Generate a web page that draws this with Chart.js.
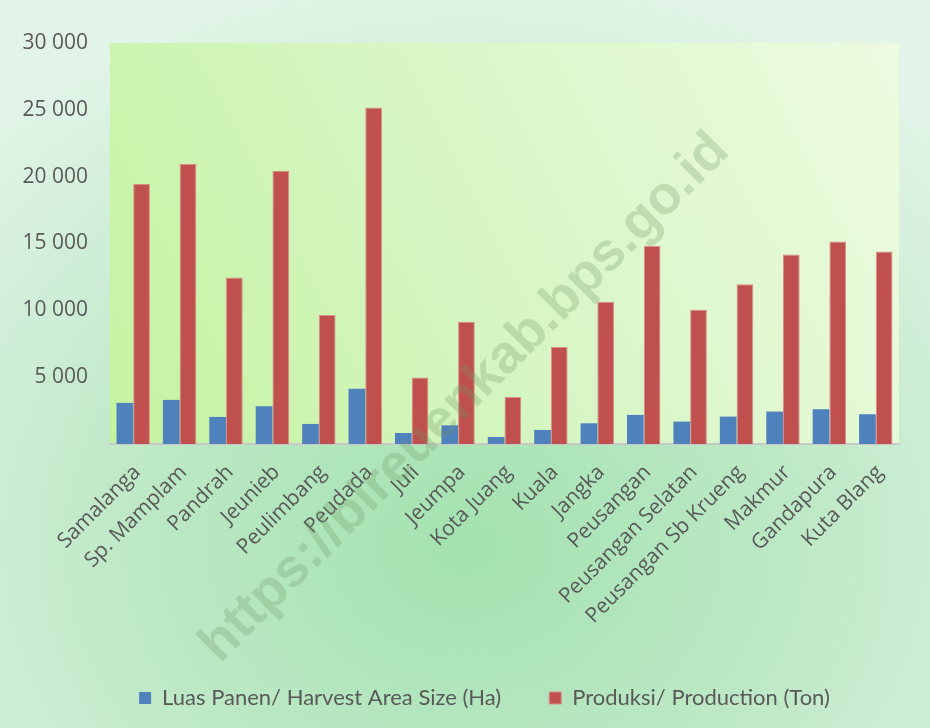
<!DOCTYPE html>
<html>
<head>
<meta charset="utf-8">
<script src="https://cdn.jsdelivr.net/npm/chart.js@4"></script>
<style>
  html, body { margin: 0; padding: 0; }
  body {
    width: 930px; height: 728px; overflow: hidden;
    background: radial-gradient(ellipse 75% 80% at 50% 75%, #a3e2b0 0%, #bfe9c7 50%, #e2f4e8 100%);
  }
  #wrap { position: relative; width: 930px; height: 728px; }
</style>
</head>
<body>
<div id="wrap"><canvas id="Diagram1" width="930" height="728"></canvas></div>
<script>
var kecamatan = ['Samalanga', 'Sp. Mamplam', 'Pandrah', 'Jeunieb', 'Peulimbang', 'Peudada', 'Juli', 'Jeumpa',
  'Kota Juang', 'Kuala', 'Jangka', 'Peusangan', 'Peusangan Selatan', 'Peusangan Sb Krueng', 'Makmur', 'Gandapura', 'Kuta Blang'];
var luasPanen = [3075, 3300, 2025, 2825, 1500, 4125, 825, 1400, 525, 1050, 1550, 2175, 1675, 2050, 2425, 2600, 2225];
var produksi = [19450, 20950, 12450, 20450, 9650, 25175, 4975, 9150, 3525, 7250, 10650, 14825, 10050, 11950, 14175, 15150, 14400];
var yTicks = [0, 5000, 10000, 15000, 20000, 25000, 30000];

var fontName = '"Open Sans", sans-serif';
var legendFont = 'Lato, "Open Sans", sans-serif';
var textColor = '#595959';

// plot area fill, watermark, legend nudge
var decor = {
  id: 'decor',
  afterLayout: function(chart) {
    var lg = chart.legend;
    lg.left += 35; lg.right += 35;
    lg.top -= 5; lg.bottom -= 5;
  },
  beforeDraw: function(chart) {
    var a = chart.chartArea, c = chart.ctx;
    var g = c.createLinearGradient(a.left, a.bottom, a.right, a.top);
    g.addColorStop(0, '#c4f3a0');
    g.addColorStop(0.5, '#d8f6c6');
    g.addColorStop(1, '#edfbe0');
    c.save();
    c.fillStyle = g;
    c.fillRect(a.left, a.top, a.right - a.left, a.bottom - a.top);
    c.restore();
  },
  afterDatasetsDraw: function(chart) {
    var c = chart.ctx;
    c.save();
    c.translate(465, 398);
    c.rotate(-45 * Math.PI / 180);
    c.font = 'bold 54px "Liberation Sans", sans-serif';
    c.fillStyle = 'rgba(110, 150, 100, 0.28)';
    c.textAlign = 'center';
    c.textBaseline = 'middle';
    c.fillText('https://bireuenkab.bps.go.id', 0, 0);
    c.restore();
  }
};

var ctx1 = document.getElementById('Diagram1').getContext('2d');
var BarChart1 = new Chart(ctx1, {
  type: 'bar',
  data: {
    labels: kecamatan,
    datasets: [
      {
        label: 'Luas Panen/ Harvest Area Size (Ha)',
        data: luasPanen,
        backgroundColor: '#4f81bd',
        borderWidth: 0
      },
      {
        label: 'Produksi/ Production (Ton)',
        data: produksi,
        backgroundColor: '#c0504d',
        borderColor: '#d98c8a',
        borderWidth: 1
      }
    ]
  },
  options: {
    responsive: false,
    animation: false,
    devicePixelRatio: 1,
    layout: { padding: { top: 43, right: 31, left: 0, bottom: 4 } },
    datasets: { bar: { categoryPercentage: 0.72, barPercentage: 1.0 } },
    scales: {
      x: {
        grid: { display: false, drawTicks: false },
        border: { display: true, color: '#c8c8c8', width: 2 },
        ticks: {
          color: textColor,
          font: { family: fontName, size: 21 },
          maxRotation: 45, minRotation: 45,
          autoSkip: false,
          labelOffset: 4,
          padding: 16
        },
        afterFit: function(s) { s.height = 200; }
      },
      y: {
        min: 0, max: 30000,
        afterBuildTicks: function(s) { s.ticks = yTicks.map(function(v) { return { value: v }; }); },
        grid: { display: false, drawTicks: false },
        border: { display: false },
        ticks: {
          color: textColor,
          font: { family: fontName, size: 21 },
          padding: 22,
          callback: function(v) {
            if (v === 0) return '';
            return String(v).replace(/\B(?=(\d{3})+(?!\d))/g, ' ');
          }
        },
        afterFit: function(s) { s.width = 110; }
      }
    },
    plugins: {
      legend: {
        position: 'bottom',
        labels: {
          color: textColor,
          font: { family: legendFont, size: 22 },
          boxWidth: 12, boxHeight: 12,
          padding: 48
        }
      },
      tooltip: { enabled: false }
    }
  },
  plugins: [decor]
});
</script>
</body>
</html>
